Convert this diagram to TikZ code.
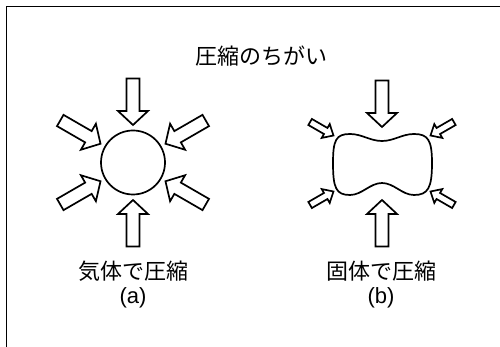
\documentclass[tikz,border=0pt]{standalone}
\usepackage{fontspec}
\setmainfont{Liberation Sans}
\newfontfamily\jp{Noto Sans CJK JP}
\newcommand\bigblkarrow[3]{%
  \begin{scope}[shift={(#1)}, rotate=#2]
    \draw[blk] (#3,0) -- ++(14,15) -- ++(0,-8.5) -- ++(32.5,0) -- ++(0,-13) -- ++(-32.5,0) -- ++(0,-8.5) -- cycle;
  \end{scope}}
\newcommand\smallblkarrow[3]{%
  \begin{scope}[shift={(#1)}, rotate=#2]
    \draw[blk] (#3,0) -- ++(9,8) -- ++(0,-4.5) -- ++(18,0) -- ++(0,-7) -- ++(-18,0) -- ++(0,-4.5) -- cycle;
  \end{scope}}
\begin{document}
\begin{tikzpicture}[x=1pt,y=1pt,
  blk/.style={draw=black, line width=1.7pt, fill=white, line join=miter},
  lbl/.style={inner sep=0pt, font=\fontsize{22}{26}\selectfont}]
\useasboundingbox (0,0) rectangle (500,347);
\draw[line width=1.2pt] (6.5,0) -- (6.5,340.5) -- (500,340.5);

% title
\node[lbl] (title) at (261,291) {\jp 圧縮のちがい};

% (a) gas
\node[circle, draw, line width=1.7pt, minimum size=64pt, inner sep=0pt] (gas) at (133,184.5) {};
\foreach \a in {90,270,30,150,210,330} {\bigblkarrow{gas.center}{\a}{37.5}}
\node[lbl] (gaslbl) at (133,76) {\jp 気体で圧縮};
\node[lbl] (alab) at (133,49) {(a)};

% (b) solid
\coordinate (solid) at (382,183.5);
\draw[line width=1.7pt]
  (333,184) .. controls (333,207) and (336,213) .. (350,213)
  .. controls (362,213) and (370,206) .. (382,206)
  .. controls (394,206) and (402,213) .. (414,213)
  .. controls (428,213) and (432,207) .. (432,184)
  .. controls (432,159) and (428,152) .. (414,152)
  .. controls (402,152) and (394,164) .. (382,164)
  .. controls (370,164) and (362,152) .. (350,152)
  .. controls (336,152) and (333,159) .. (333,184) -- cycle;
\bigblkarrow{solid}{90}{36.5}
\bigblkarrow{solid}{270}{36.5}
\foreach \a in {30,150,210,330} {\smallblkarrow{solid}{\a}{56}}
\node[lbl] (solidlbl) at (381,76) {\jp 固体で圧縮};
\node[lbl] (blab) at (381,49) {(b)};
\end{tikzpicture}
\end{document}
